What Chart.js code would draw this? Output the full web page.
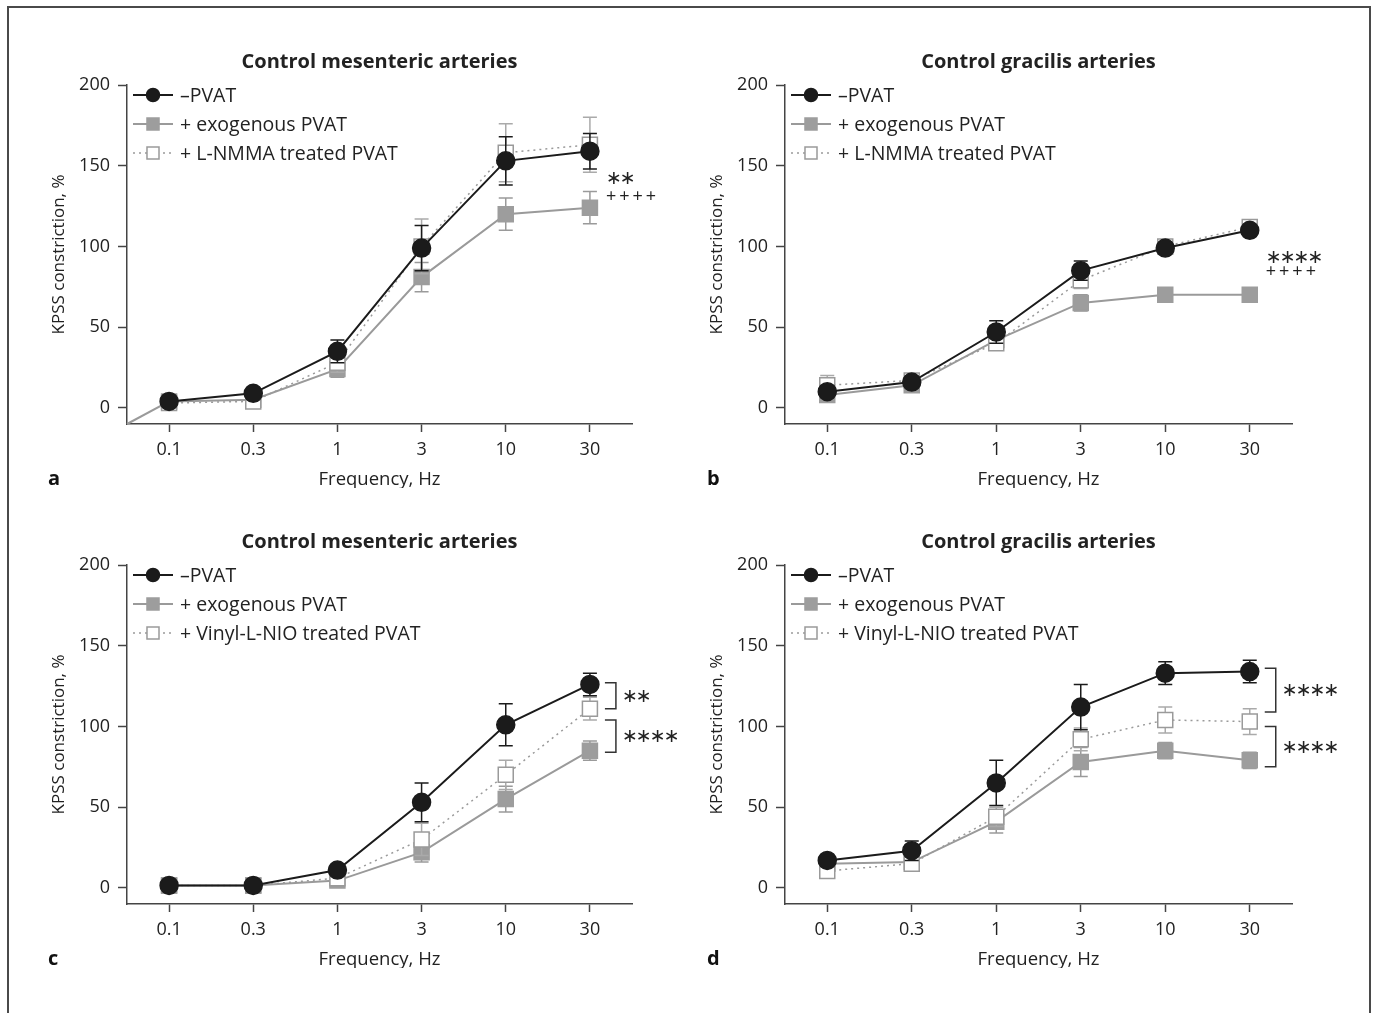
<!DOCTYPE html>
<html>
<head>
<meta charset="utf-8">
<title>KPSS constriction</title>
<script src="https://cdn.jsdelivr.net/npm/chart.js@4.4.0/dist/chart.umd.min.js"></script>
<style>
  body { margin: 0; background: #fff; }
  #page { position: relative; width: 1375px; height: 1013px; overflow: hidden; background: #fff; }
  #frame { position: absolute; left: 7px; top: 6px; width: 1360px; height: 1100px; border: 2px solid #4a4a4a; }
  .panel { position: absolute; }
</style>
</head>
<body>
<div id="page">
  <div id="frame"></div>
  <div class="panel" style="left:0;top:30px;width:687px;height:458px"><canvas id="chartA"></canvas></div>
  <div class="panel" style="left:687px;top:30px;width:688px;height:458px"><canvas id="chartB"></canvas></div>
  <div class="panel" style="left:0;top:510px;width:687px;height:458px"><canvas id="chartC"></canvas></div>
  <div class="panel" style="left:687px;top:510px;width:688px;height:458px"><canvas id="chartD"></canvas></div>
</div>
<script>
const frequencies = ['0.1', '0.3', '1', '3', '10', '30'];
const yTicks = [0, 50, 100, 150, 200];

// a - mesenteric, L-NMMA
const pvatA = [4, 9, 35, 99, 153, 159];
const pvatErrA = [3, 2, 7, 14, 15, 11];
const exoA = [4, 5, 24, 81, 120, 124];
const exoErrA = [4, 2, 5, 9, 10, 10];
const nmmaA = [3, 4, 28, 100, 158, 163];
const nmmaErrA = [3, 2, 6, 17, 18, 17];

// b - gracilis, L-NMMA
const pvatB = [10, 16, 47, 85, 99, 110];
const pvatErrB = [3, 3, 7, 6, 3, 3];
const exoB = [8, 14, 42, 65, 70, 70];
const exoErrB = [3, 4, 4, 5, 3, 2];
const nmmaB = [14, 17, 40, 79, 100, 112];
const nmmaErrB = [6, 4, 4, 5, 3, 4];

// c - mesenteric, vinyl-L-NIO
const pvatC = [1.5, 1.5, 11, 53, 101, 126];
const pvatErrC = [1, 1, 3, 12, 13, 7];
const exoC = [1.5, 1.5, 4.5, 22, 55, 85];
const exoErrC = [1, 1, 2, 6, 8, 6];
const vinylC = [1.5, 1.5, 6, 30, 70, 111];
const vinylErrC = [1, 1, 2, 10, 9, 7];

// d - gracilis, vinyl-L-NIO
const pvatD = [17, 23, 65, 112, 133, 134];
const pvatErrD = [2, 6, 14, 14, 7, 7];
const exoD = [15, 16, 41, 78, 85, 79];
const exoErrD = [2, 2, 7, 9, 5, 5];
const vinylD = [10.5, 15, 44, 92, 104, 103];
const vinylErrD = [2, 2, 6, 7, 8, 8];

const textColor = '#222';
const axisColor = '#444';
const fontFamily = "'Open Sans', 'Noto Sans', sans-serif";
Chart.defaults.font.family = fontFamily;
Chart.defaults.color = textColor;

const seriesStyle = [
  { line: '#1b1b1b', fill: '#1b1b1b', edge: '#1b1b1b', shape: 'circle', r: 9, lr: 6.5, width: 2, dash: [], err: '#1b1b1b' },
  { line: '#9a9a9a', fill: '#9d9d9d', edge: '#9d9d9d', shape: 'rect', r: 10.6, lr: 8.5, width: 2, dash: [], err: '#9a9a9a' },
  { line: '#9a9a9a', fill: '#ffffff', edge: '#9a9a9a', shape: 'rect', r: 10.6, lr: 8.5, width: 1.5, dash: [2, 4], err: '#aaaaaa' }
];

function marker(ctx, shape, x, y, r) {
  ctx.beginPath();
  if (shape === 'circle') {
    ctx.arc(x, y, r, 0, Math.PI * 2);
  } else {
    const s = r * Math.SQRT1_2;
    ctx.rect(x - s, y - s, 2 * s, 2 * s);
  }
  ctx.fill();
  ctx.stroke();
}

const errorBars = {
  id: 'errorBars',
  beforeDatasetDraw(chart, args) {
    const ds = chart.data.datasets[args.index];
    const y = chart.scales.y;
    const ctx = chart.ctx;
    ctx.save();
    ctx.strokeStyle = ds.errorColor;
    ctx.lineWidth = 1.5;
    args.meta.data.forEach((pt, i) => {
      const top = y.getPixelForValue(ds.data[i] + ds.errors[i]);
      const bot = y.getPixelForValue(ds.data[i] - ds.errors[i]);
      ctx.beginPath();
      ctx.moveTo(pt.x, top); ctx.lineTo(pt.x, bot);
      ctx.moveTo(pt.x - 7, top); ctx.lineTo(pt.x + 7, top);
      ctx.moveTo(pt.x - 7, bot); ctx.lineTo(pt.x + 7, bot);
      ctx.stroke();
    });
    ctx.restore();
  }
};

const extras = {
  id: 'extras',
  beforeDatasetsDraw(chart, args, opts) {
    if (!opts.originLine) return;
    // the grey trace starts from the axis corner in panel a
    const ctx = chart.ctx;
    const pt = chart.getDatasetMeta(1).data[0];
    ctx.save();
    ctx.strokeStyle = '#9a9a9a';
    ctx.lineWidth = 2;
    ctx.beginPath();
    ctx.moveTo(chart.chartArea.left, chart.chartArea.bottom);
    ctx.lineTo(pt.x, pt.y);
    ctx.stroke();
    ctx.restore();
  },
  afterDraw(chart, args, opts) {
    const ctx = chart.ctx;
    const area = chart.chartArea;
    const y = chart.scales.y;
    ctx.save();

    // title centred over the plot area
    ctx.fillStyle = textColor;
    ctx.font = 'bold 20px ' + fontFamily;
    ctx.textAlign = 'center';
    ctx.textBaseline = 'middle';
    ctx.fillText(opts.title, (area.left + area.right) / 2, 32);

    // legend inside the plot
    chart.data.datasets.forEach((ds, i) => {
      const cy = area.top + 10 + i * 29;
      const x0 = area.left + 6;
      ctx.strokeStyle = ds.borderColor;
      ctx.lineWidth = ds.style.width;
      ctx.setLineDash(ds.style.dash);
      ctx.beginPath();
      ctx.moveTo(x0, cy); ctx.lineTo(x0 + 40, cy);
      ctx.stroke();
      ctx.setLineDash([]);
      ctx.fillStyle = ds.style.fill;
      ctx.strokeStyle = ds.style.edge;
      ctx.lineWidth = 1.5;
      marker(ctx, ds.style.shape, x0 + 20, cy, ds.style.lr);
      ctx.fillStyle = textColor;
      ctx.font = '19.5px ' + fontFamily;
      ctx.textBaseline = 'middle';
      ctx.textAlign = 'left';
      ctx.fillText(ds.label, area.left + 53, cy + 1);
    });

    const lastX = chart.getDatasetMeta(0).data[frequencies.length - 1].x;

    (opts.marks || []).forEach(m => {
      ctx.fillStyle = textColor;
      ctx.textAlign = 'left';
      ctx.textBaseline = 'middle';
      ctx.font = m.big ? "19px 'DejaVu Sans', sans-serif" : '18px ' + fontFamily;
      ctx.letterSpacing = m.big ? '-2px' : '3px';
      ctx.fillText(m.text, lastX + 16, y.getPixelForValue(m.value));
    });

    (opts.brackets || []).forEach(b => {
      const t = y.getPixelForValue(b.from);
      const u = y.getPixelForValue(b.to);
      ctx.strokeStyle = '#333';
      ctx.lineWidth = 1.5;
      ctx.beginPath();
      ctx.moveTo(lastX + 15, t); ctx.lineTo(lastX + 26, t);
      ctx.lineTo(lastX + 26, u); ctx.lineTo(lastX + 15, u);
      ctx.stroke();
      ctx.fillStyle = textColor;
      ctx.font = "19px 'DejaVu Sans', sans-serif";
      ctx.letterSpacing = '-2px';
      ctx.textAlign = 'left';
      ctx.textBaseline = 'middle';
      ctx.fillText(b.text, lastX + 32, (t + u) / 2 + 1);
    });
    ctx.letterSpacing = '0px';

    // panel letter
    ctx.fillStyle = '#111';
    ctx.font = 'bold 20px ' + fontFamily;
    ctx.textAlign = 'left';
    ctx.textBaseline = 'middle';
    ctx.fillText(opts.letter, opts.letterX, 449);
    ctx.restore();
  }
};

function dataset(label, data, errors, k) {
  const s = seriesStyle[k];
  return {
    label, data, errors, style: s,
    errorColor: s.err,
    borderColor: s.line,
    borderWidth: s.width,
    borderDash: s.dash,
    pointStyle: s.shape,
    pointRadius: s.r,
    pointBackgroundColor: s.fill,
    pointBorderColor: s.edge,
    pointBorderWidth: 1.5,
    tension: 0,
    order: [0, 2, 1][k]
  };
}

function makePanel(id, col, title, letter, series, extraOpts) {
  const yWidth = col === 0 ? 127 : 98;
  const yTitlePad = col === 0 ? 49 : 20;
  const rightPad = col === 0 ? 55 : 83;
  new Chart(document.getElementById(id), {
    type: 'line',
    data: { labels: frequencies, datasets: series },
    options: {
      responsive: true,
      maintainAspectRatio: false,
      animation: false,
      layout: { padding: { left: 0, right: rightPad, top: 55, bottom: 0 } },
      plugins: {
        legend: { display: false },
        tooltip: { enabled: false },
        title: { display: false },
        extras: Object.assign({ title, letter, letterX: col === 0 ? 48 : 20 }, extraOpts)
      },
      scales: {
        x: {
          type: 'category',
          offset: true,
          afterFit: s => { s.height = 64; },
          border: { display: true, color: axisColor, width: 1.5 },
          grid: { offset: false, drawOnChartArea: false, drawTicks: true, tickLength: 8, tickWidth: 1.5, tickColor: axisColor },
          ticks: { padding: 7, maxRotation: 0, autoSkip: false, color: textColor, font: { size: 18 } },
          title: { display: true, text: 'Frequency, Hz', color: textColor, font: { size: 18.5 }, padding: { top: 0, bottom: -3 } }
        },
        y: {
          min: -10,
          max: 200,
          afterBuildTicks: s => { s.ticks = yTicks.map(v => ({ value: v })); },
          afterFit: s => { s.width = yWidth; },
          border: { display: true, color: axisColor, width: 1.5 },
          grid: { drawOnChartArea: false, drawTicks: true, tickLength: 9, tickWidth: 1.5, tickColor: axisColor },
          ticks: { padding: 8, color: textColor, font: { size: 18 } },
          title: { display: true, text: 'KPSS constriction, %', color: textColor, font: { size: 17 }, padding: { top: yTitlePad, bottom: 0 } }
        }
      }
    },
    plugins: [errorBars, extras]
  });
}

makePanel('chartA', 0, 'Control mesenteric arteries', 'a', [
  dataset('\u2013PVAT', pvatA, pvatErrA, 0),
  dataset('+ exogenous PVAT', exoA, exoErrA, 1),
  dataset('+ L-NMMA treated PVAT', nmmaA, nmmaErrA, 2)
], {
  originLine: true,
  marks: [{ text: '\u2217\u2217', value: 142, big: true }, { text: '++++', value: 131 }]
});

makePanel('chartB', 1, 'Control gracilis arteries', 'b', [
  dataset('\u2013PVAT', pvatB, pvatErrB, 0),
  dataset('+ exogenous PVAT', exoB, exoErrB, 1),
  dataset('+ L-NMMA treated PVAT', nmmaB, nmmaErrB, 2)
], {
  marks: [{ text: '\u2217\u2217\u2217\u2217', value: 93, big: true }, { text: '++++', value: 84 }]
});

makePanel('chartC', 0, 'Control mesenteric arteries', 'c', [
  dataset('\u2013PVAT', pvatC, pvatErrC, 0),
  dataset('+ exogenous PVAT', exoC, exoErrC, 1),
  dataset('+ Vinyl-L-NIO treated PVAT', vinylC, vinylErrC, 2)
], {
  brackets: [{ from: 127, to: 111, text: '\u2217\u2217' }, { from: 104, to: 84, text: '\u2217\u2217\u2217\u2217' }]
});

makePanel('chartD', 1, 'Control gracilis arteries', 'd', [
  dataset('\u2013PVAT', pvatD, pvatErrD, 0),
  dataset('+ exogenous PVAT', exoD, exoErrD, 1),
  dataset('+ Vinyl-L-NIO treated PVAT', vinylD, vinylErrD, 2)
], {
  brackets: [{ from: 136, to: 109, text: '\u2217\u2217\u2217\u2217' }, { from: 100, to: 75, text: '\u2217\u2217\u2217\u2217' }]
});
</script>
</body>
</html>
